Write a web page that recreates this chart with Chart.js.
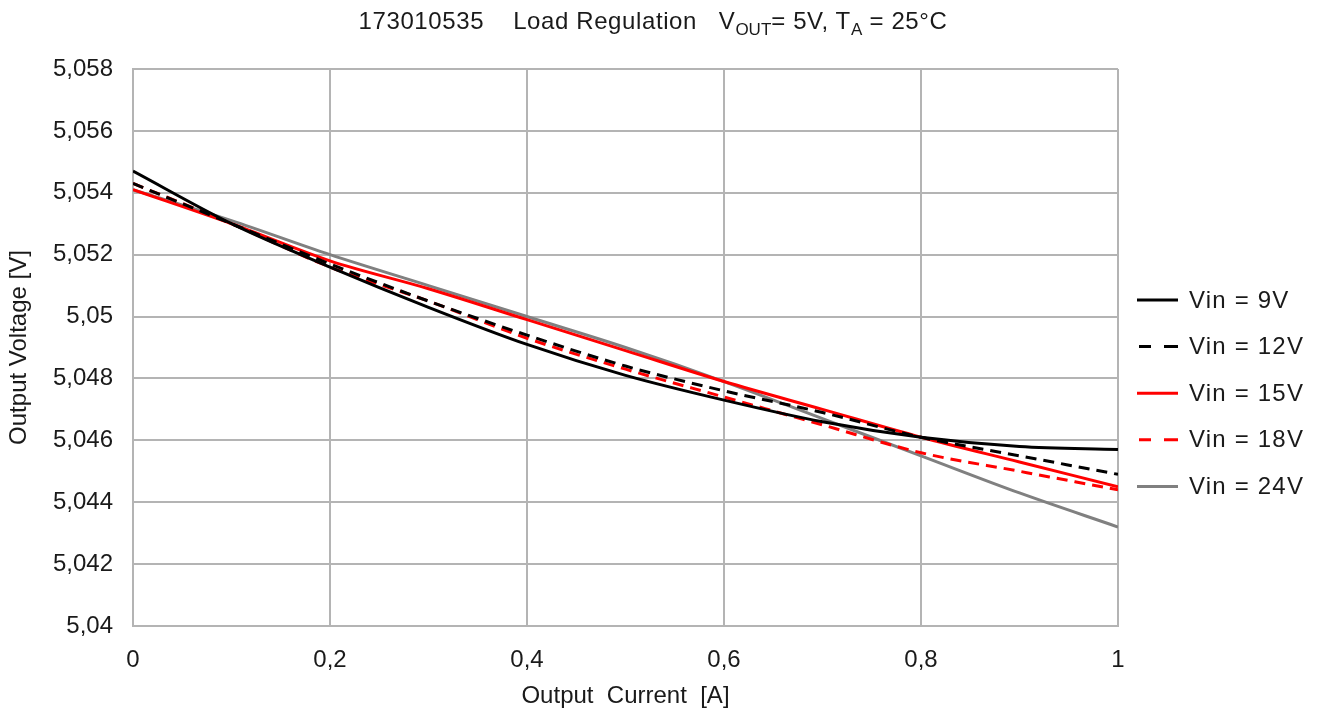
<!DOCTYPE html>
<html>
<head>
<meta charset="utf-8">
<script src="https://cdn.jsdelivr.net/npm/chart.js@4/dist/chart.umd.min.js"></script>
<style>
  html, body { margin: 0; padding: 0; background: #fff; }
  #wrap { position: relative; width: 1317px; height: 713px; }
  #title {
    position: absolute; top: 7px; left: 0; width: 1306px; text-align: center; white-space: pre;
    font-family: "Liberation Sans", Arial, sans-serif; font-size: 24px; color: #1a1a1a;
    letter-spacing: 0.6px;
  }
  #title sub { font-size: 17px; vertical-align: -6px; line-height: 0; letter-spacing: 0; }
</style>
</head>
<body>
<div id="wrap">
  <div id="title">173010535    Load Regulation   V<sub>OUT</sub>= 5V, T<sub>A</sub> = 25°C</div>
  <canvas id="loadReg" width="1317" height="713"></canvas>
</div>
<script>
current = [0, 0.1, 0.2, 0.3, 0.4, 0.5, 0.6, 0.7, 0.8, 0.9, 1.0]
vin_9 = [5.0547, 5.0530, 5.0516, 5.0503, 5.0491, 5.0481, 5.0473, 5.0466, 5.0461, 5.0458, 5.0457]
vin_12 = [5.0543, 5.0530, 5.0517, 5.0505, 5.0494, 5.0484, 5.0476, 5.0469, 5.0461, 5.0455, 5.0449]
vin_15 = [5.0541, 5.0530, 5.0518, 5.0509, 5.0499, 5.0489, 5.0479, 5.0470, 5.0461, 5.0453, 5.0445]
vin_18 = [5.0543, 5.0530, 5.0516, 5.0505, 5.0493, 5.0483, 5.0474, 5.0465, 5.0456, 5.0450, 5.0444]
vin_24 = [5.0541, 5.0531, 5.0520, 5.0510, 5.0500, 5.0490, 5.0479, 5.0467, 5.0455, 5.0443, 5.0432]
series_labels = ['Vin = 9V', 'Vin = 12V', 'Vin = 15V', 'Vin = 18V', 'Vin = 24V']

function toPoints(values) {
  return values.map(function (v, i) { return { x: current[i], y: v } })
}

function commaNumber(v) {
  return parseFloat(v.toFixed(3)).toString().replace('.', ',')
}

const font_family = '"Liberation Sans", Arial, sans-serif'
const text_color = '#1a1a1a'
const dash = [11, 7]

// legend drawn by hand so it sits where the original has it
const sideLegend = {
  id: 'sideLegend',
  afterDraw(chart) {
    const ctx = chart.ctx
    ctx.save()
    ctx.font = '24px ' + font_family
    ctx.letterSpacing = '1.2px'
    ctx.textBaseline = 'middle'
    chart.data.datasets.forEach(function (ds, i) {
      const y = 300 + i * 46.6
      ctx.beginPath()
      ctx.strokeStyle = ds.borderColor
      ctx.lineWidth = 3
      if (ds.borderDash) {
        ctx.moveTo(1139, y); ctx.lineTo(1151, y)
        ctx.moveTo(1164, y); ctx.lineTo(1178, y)
      } else {
        ctx.moveTo(1137, y); ctx.lineTo(1178, y)
      }
      ctx.stroke()
      ctx.fillStyle = text_color
      ctx.fillText(ds.label, 1189, y + 1)
    })
    ctx.restore()
  }
}

const loadRegCanvas = document.getElementById('loadReg')
new Chart(
  loadRegCanvas,
  {
    type: 'line',
    data: {
      datasets: [
        { label: series_labels[0], data: toPoints(vin_9), borderColor: '#000000' },
        { label: series_labels[1], data: toPoints(vin_12), borderColor: '#000000', borderDash: dash },
        { label: series_labels[2], data: toPoints(vin_15), borderColor: '#ff0000' },
        { label: series_labels[3], data: toPoints(vin_18), borderColor: '#ff0000', borderDash: dash },
        { label: series_labels[4], data: toPoints(vin_24), borderColor: '#808080' },
      ]
    },
    options: {
      responsive: false,
      animation: false,
      layout: { padding: { top: 69, right: 199, left: 5, bottom: 0 } },
      elements: {
        line: { borderWidth: 3, cubicInterpolationMode: 'monotone', fill: false },
        point: { radius: 0 }
      },
      plugins: {
        legend: { display: false },
        title: { display: false },
        tooltip: { enabled: false }
      },
      scales: {
        x: {
          type: 'linear',
          min: 0,
          max: 1,
          afterFit: function (scale) { scale.height = 87 },
          ticks: {
            stepSize: 0.2,
            color: text_color,
            padding: 20,
            font: { family: font_family, size: 24 },
            callback: function (v) { return commaNumber(v) },
            maxRotation: 0
          },
          grid: { color: '#b4b4b4', lineWidth: 2, drawTicks: false },
          border: { color: '#b4b4b4', width: 2 },
          title: {
            display: true,
            text: 'Output  Current  [A]',
            color: text_color,
            font: { family: font_family, size: 24 },
            padding: { top: 0, bottom: 2 }
          }
        },
        y: {
          min: 5.04,
          max: 5.058,
          afterFit: function (scale) { scale.width = 128 },
          ticks: {
            stepSize: 0.002,
            color: text_color,
            font: { family: font_family, size: 24 },
            padding: 20,
            callback: function (v) { return commaNumber(v) }
          },
          grid: { color: '#b4b4b4', lineWidth: 2, drawTicks: false },
          border: { color: '#b4b4b4', width: 2 },
          title: {
            display: true,
            text: 'Output Voltage [V]',
            color: text_color,
            font: { family: font_family, size: 24 },
            padding: { top: 0, bottom: 0 }
          }
        }
      }
    },
    plugins: [sideLegend]
  }
)
</script>
</body>
</html>
